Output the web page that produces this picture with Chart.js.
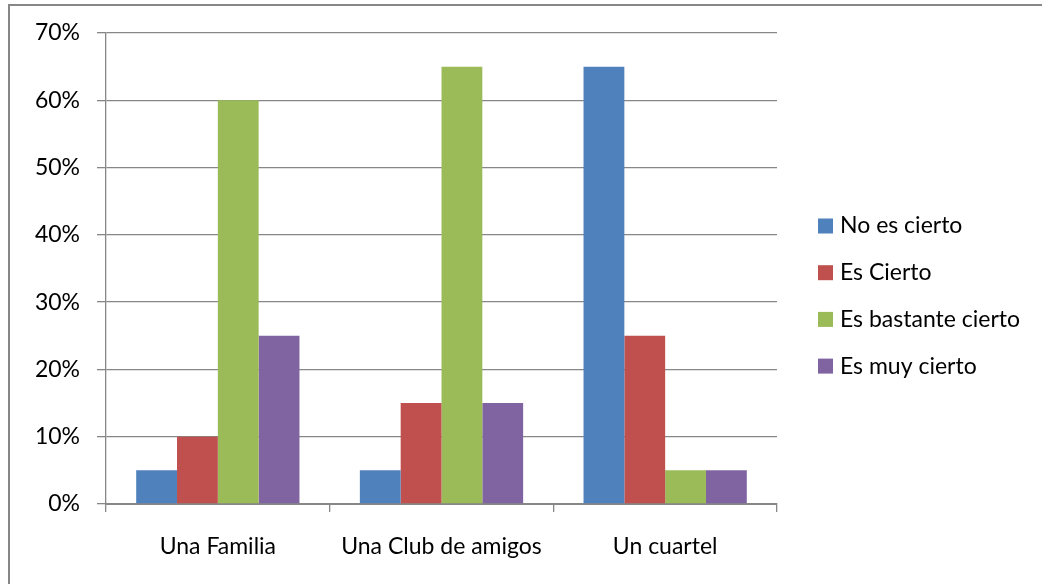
<!DOCTYPE html>
<html>
<head>
<meta charset="utf-8">
<script src="https://cdn.jsdelivr.net/npm/chart.js@4.4.1/dist/chart.umd.min.js"></script>
<style>
  html, body { margin: 0; padding: 0; background: #fff; }
  #frame { position: absolute; left: 8px; top: 4px; width: 1034px; height: 580px;
           border-top: 2px solid #878787; border-left: 2px solid #878787; box-sizing: border-box; }
  #wrap { position: absolute; left: 0; top: 0; width: 1042px; height: 584px; }
</style>
</head>
<body>
<div id="frame"></div>
<div id="wrap"><canvas id="c" width="1042" height="584"></canvas></div>
<script>
const categories = ["Una Familia", "Una Club de amigos", "Un cuartel"];
const seriesNames = ["No es cierto", "Es Cierto", "Es bastante cierto", "Es muy cierto"];
const noEsCierto = [0.05, 0.05, 0.65];
const esCierto = [0.10, 0.15, 0.25];
const esBastanteCierto = [0.60, 0.65, 0.05];
const esMuyCierto = [0.25, 0.15, 0.05];
const seriesColors = ["#4F81BD", "#C0504D", "#9BBB59", "#8064A2"];

const FONT = "Lato, 'Open Sans', sans-serif";
const FONT_SIZE = 23;
const axisGray = "#878787";

const values = [noEsCierto, esCierto, esBastanteCierto, esMuyCierto];

// Legend drawn to the right of the plot: square swatch + label, stacked vertically.
const sideLegend = {
  id: "sideLegend",
  afterDraw(chart, args, opts) {
    const ctx = chart.ctx;
    const area = chart.chartArea;
    const x = area.right + opts.offsetX;
    ctx.save();
    ctx.font = `${FONT_SIZE}px ${FONT}`;
    ctx.textBaseline = "middle";
    ctx.textAlign = "left";
    chart.data.datasets.forEach((ds, i) => {
      const cy = opts.firstY + i * opts.step;
      ctx.fillStyle = ds.backgroundColor;
      ctx.fillRect(x, cy - opts.box / 2, opts.box, opts.box);
      ctx.fillStyle = "#000";
      ctx.fillText(ds.label, x + opts.box + opts.gap, cy);
    });
    ctx.restore();
  }
};

new Chart(document.getElementById("c"), {
  type: "bar",
  data: {
    labels: categories,
    datasets: seriesNames.map((name, i) => ({
      label: name,
      data: values[i],
      backgroundColor: seriesColors[i],
      borderWidth: 0,
      categoryPercentage: 0.73,
      barPercentage: 1.0
    }))
  },
  plugins: [sideLegend],
  options: {
    responsive: false,
    animation: false,
    devicePixelRatio: 1,
    layout: { padding: { top: 33, right: 265, bottom: 0, left: 0 } },
    plugins: {
      tooltip: { enabled: false },
      legend: { display: false },
      sideLegend: { offsetX: 41, firstY: 226, step: 46.7, box: 15, gap: 7 }
    },
    scales: {
      y: {
        min: 0,
        max: 0.7,
        afterFit: s => { s.width = 106; },
        ticks: {
          stepSize: 0.1,
          color: "#000",
          font: { family: FONT, size: FONT_SIZE },
          padding: 17,
          callback: v => Math.round(v * 100) + "%"
        },
        grid: { color: axisGray, lineWidth: 1.3, tickLength: 9, drawTicks: true },
        border: { color: axisGray, width: 1.3 }
      },
      x: {
        afterFit: s => { s.height = 80; },
        ticks: {
          color: "#000",
          font: { family: FONT, size: FONT_SIZE },
          padding: 21
        },
        grid: { offset: true, drawOnChartArea: false, color: axisGray, lineWidth: 1.3, tickLength: 8 },
        border: { color: axisGray, width: 2 }
      }
    }
  }
});
</script>
</body>
</html>
